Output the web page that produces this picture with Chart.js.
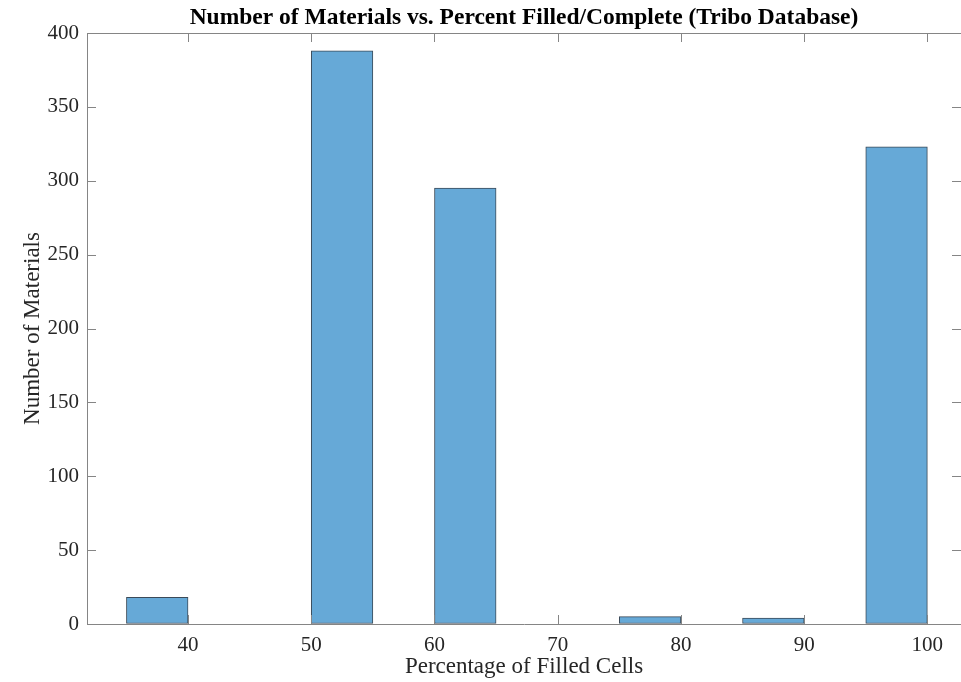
<!DOCTYPE html>
<html>
<head>
<meta charset="utf-8">
<script src="https://cdn.jsdelivr.net/npm/chart.js@4"></script>
<style>
  html, body { margin: 0; padding: 0; background: #fff; }
  #wrap { width: 961px; height: 682px; }
</style>
</head>
<body>
<div id="wrap"><canvas id="ch-hist"></canvas></div>
<script>
// ── Datos del histograma (bins de 5%) ──────────────────────────────
const binEdges = [35, 40, 45, 50, 55, 60, 65, 70, 75, 80, 85, 90, 95];
const counts   = [18, 0, 0, 388, 0, 295, 0, 0, 5, 0, 4, 0, 323];
const xTicks   = [40, 50, 60, 70, 80, 90, 100];
const yTicks   = [0, 50, 100, 150, 200, 250, 300, 350, 400];

const FONT = 'Liberation Serif, Times New Roman, serif';
const AXIS = '#858585';
const TEXT = '#262626';

// ── Marcas hacia dentro en los cuatro lados (estilo MATLAB) ────────
const boxTicks = {
    id: 'boxTicks',
    afterDraw(chart) {
        const { ctx, chartArea: a, scales: { x, y } } = chart;
        const len = 9;
        ctx.save();
        ctx.strokeStyle = AXIS;
        ctx.lineWidth = 1;
        ctx.beginPath();
        // borde superior
        ctx.moveTo(a.left, a.top + 0.5);
        ctx.lineTo(a.right, a.top + 0.5);
        xTicks.forEach(v => {
            const px = Math.round(x.getPixelForValue(v)) + 0.5;
            ctx.moveTo(px, a.bottom); ctx.lineTo(px, a.bottom - len);
            ctx.moveTo(px, a.top);    ctx.lineTo(px, a.top + len);
        });
        yTicks.forEach(v => {
            const py = Math.round(y.getPixelForValue(v)) + 0.5;
            ctx.moveTo(a.left, py);  ctx.lineTo(a.left + len, py);
            ctx.moveTo(a.right, py); ctx.lineTo(a.right - len, py);
        });
        ctx.stroke();
        ctx.restore();
    },
};

new Chart(document.getElementById('ch-hist').getContext('2d'), {
    type: 'bar',
    data: {
        datasets: [{
            data: binEdges.map((e, i) => ({ x: e + 2.5, y: counts[i] })),
            backgroundColor: '#66a9d7',
            borderColor: '#3b4a58',
            borderWidth: 1,
            borderSkipped: false,
            barPercentage: 1,
            categoryPercentage: 1,
        }],
    },
    options: {
        responsive: true, maintainAspectRatio: false, animation: false,
        layout: { padding: 0 },
        plugins: {
            legend: { display: false },
            tooltip: { enabled: false },
            title: {
                display: true, fullSize: false,
                text: 'Number of Materials vs. Percent Filled/Complete (Tribo Database)',
                color: '#000',
                font: { family: FONT, size: 23.5, weight: 'bold', lineHeight: 1.2 },
                padding: { top: 4, bottom: 0.8 },
            },
        },
        scales: {
            x: {
                type: 'linear', offset: false,
                min: 31.8, max: 102.73,
                afterFit: s => { s.height = 58; },
                afterBuildTicks: s => { s.ticks = xTicks.map(v => ({ value: v })); },
                grid: { display: true, drawOnChartArea: false, drawTicks: false, offset: false },
                border: { display: true, color: AXIS, width: 1 },
                ticks: { color: TEXT, padding: 9, maxRotation: 0, font: { family: FONT, size: 21 } },
                title: {
                    display: true, text: 'Percentage of Filled Cells', color: TEXT,
                    font: { family: FONT, size: 23, lineHeight: 1.2 },
                    padding: { top: 0, bottom: 1 },
                },
            },
            y: {
                min: 0, max: 400,
                afterFit: s => { s.width = 87; },
                afterBuildTicks: s => { s.ticks = yTicks.map(v => ({ value: v })); },
                grid: { display: true, drawOnChartArea: false, drawTicks: false },
                border: { display: true, color: AXIS, width: 1 },
                ticks: { color: TEXT, padding: 8, font: { family: FONT, size: 21 } },
                title: {
                    display: true, text: 'Number of Materials', color: TEXT,
                    font: { family: FONT, size: 23, lineHeight: 1.2 },
                    padding: { top: 19, bottom: 0 },
                },
            },
        },
    },
    plugins: [boxTicks],
});
</script>
</body>
</html>
